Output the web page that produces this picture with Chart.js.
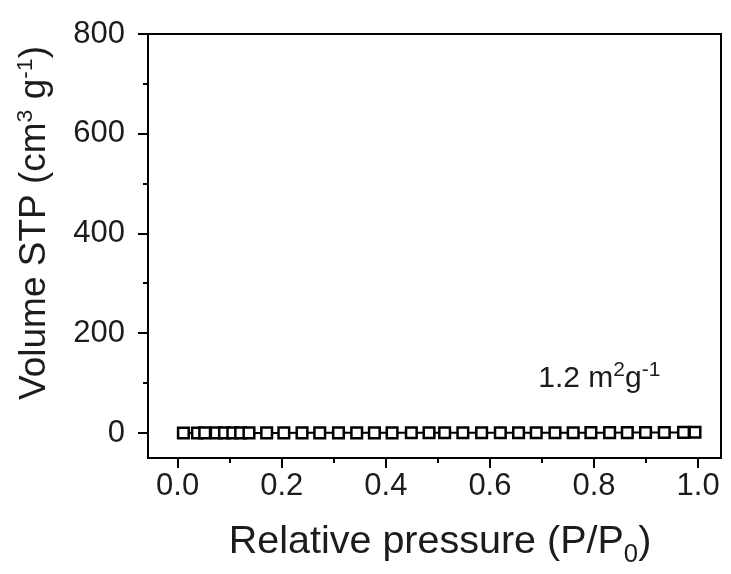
<!DOCTYPE html>
<html><head><meta charset="utf-8">
<script src="https://cdn.jsdelivr.net/npm/chart.js@4.4.1/dist/chart.umd.min.js"></script>
<style>html,body{margin:0;padding:0;background:#fff}#wrap{width:731px;height:574px}</style>
</head><body><div id="wrap"><canvas id="c" width="731" height="574"></canvas></div>
<script>
// ---- data ----
const pressure = [0.011, 0.038, 0.052, 0.074, 0.090, 0.106, 0.121, 0.137, 0.171, 0.204, 0.239, 0.273, 0.309, 0.344, 0.378, 0.412, 0.449, 0.483, 0.513, 0.548, 0.584, 0.620, 0.655, 0.689, 0.725, 0.760, 0.794, 0.830, 0.864, 0.899, 0.935, 0.972, 0.994];
const volume   = [0.21, 0.25, 0.27, 0.29, 0.30, 0.31, 0.32, 0.33, 0.35, 0.36, 0.38, 0.40, 0.41, 0.43, 0.45, 0.47, 0.49, 0.51, 0.53, 0.55, 0.58, 0.60, 0.63, 0.66, 0.70, 0.74, 0.79, 0.85, 0.92, 1.02, 1.15, 1.35, 1.60];
const xTickValues = [0, 0.2, 0.4, 0.6, 0.8, 1.0];
const xTickLabels = ['0.0', '0.2', '0.4', '0.6', '0.8', '1.0'];
const xMinorTicks = [0.1, 0.3, 0.5, 0.7, 0.9];
const yTickValues = [0, 200, 400, 600, 800];
const yTickLabels = ['0', '200', '400', '600', '800'];
const yMinorTicks = [100, 300, 500, 700];
const xTitleParts = [['Relative pressure (P/P', ''], ['0', 'sub'], [')', '']];
const yTitleParts = [['Volume STP (cm', ''], ['3', 'sup'], [' g', ''], ['-1', 'sup'], [')', '']];
const noteParts = [['1.2 m', ''], ['2', 'sup'], ['g', ''], ['-1', 'sup']];
const notePos = {x: 0.693, y: 92};

const FONT = '"Liberation Sans", Arial, Helvetica, sans-serif';
const TXT = '#1c1c1c';

function richWidth(ctx, parts, size, r) {
  let w = 0;
  for (const [t, k] of parts) {
    ctx.font = (k ? size * r : size) + 'px ' + FONT;
    w += ctx.measureText(t).width;
  }
  return w;
}
function drawRich(ctx, parts, x, y, size, r) {
  let cx = x;
  for (const [t, k] of parts) {
    const s = k ? size * r : size;
    ctx.font = s + 'px ' + FONT;
    let dy = 0;
    if (k === 'sup') dy = -size * 0.36;
    if (k === 'sub') dy = size * 0.22;
    ctx.fillText(t, cx, y + dy);
    cx += ctx.measureText(t).width;
  }
}

const decor = {
  id: 'decor',
  afterDraw(chart) {
    const ctx = chart.ctx, a = chart.chartArea;
    const xs = chart.scales.x, ys = chart.scales.y;
    ctx.save();
    ctx.strokeStyle = '#000';
    ctx.lineWidth = 2;
    ctx.strokeRect(a.left, a.top, a.right - a.left, a.bottom - a.top);
    ctx.beginPath();
    for (const v of xTickValues) { const p = Math.round(xs.getPixelForValue(v)); ctx.moveTo(p, a.bottom); ctx.lineTo(p, a.bottom + 10); }
    for (const v of xMinorTicks) { const p = Math.round(xs.getPixelForValue(v)); ctx.moveTo(p, a.bottom); ctx.lineTo(p, a.bottom + 5); }
    for (const v of yTickValues) { const p = Math.round(ys.getPixelForValue(v)); ctx.moveTo(a.left, p); ctx.lineTo(a.left - 10, p); }
    for (const v of yMinorTicks) { const p = Math.round(ys.getPixelForValue(v)); ctx.moveTo(a.left, p); ctx.lineTo(a.left - 5, p); }
    ctx.stroke();

    ctx.fillStyle = TXT;
    ctx.textBaseline = 'alphabetic';
    ctx.textAlign = 'left';
    // x title
    const xs1 = 39.5;
    const wx = richWidth(ctx, xTitleParts, xs1, 0.65);
    drawRich(ctx, xTitleParts, 440 - wx / 2, 553, xs1, 0.65);
    // y title
    const ys1 = 37;
    const wy = richWidth(ctx, yTitleParts, ys1, 0.62);
    ctx.save();
    ctx.translate(45, 223);
    ctx.rotate(-Math.PI / 2);
    drawRich(ctx, yTitleParts, -wy / 2, 0, ys1, 0.62);
    ctx.restore();
    // note
    drawRich(ctx, noteParts, xs.getPixelForValue(notePos.x), ys.getPixelForValue(notePos.y), 30, 0.7);
    ctx.restore();
  }
};

new Chart(document.getElementById('c'), {
  type: 'scatter',
  data: {
    datasets: [{
      data: pressure.map((p, i) => ({x: p, y: volume[i]})),
      showLine: true,
      borderColor: '#000',
      borderWidth: 2,
      pointStyle: 'rect',
      pointRadius: 7.5,
      pointBorderWidth: 2.5,
      pointBorderColor: '#000',
      pointBackgroundColor: '#fff'
    }]
  },
  options: {
    responsive: false,
    animation: false,
    layout: {padding: {top: 34, right: 7, left: 0, bottom: 0}},
    plugins: {legend: {display: false}, tooltip: {enabled: false}},
    scales: {
      x: {
        type: 'linear', min: -0.057, max: 1.044,
        afterFit(s) { s.height = 116; s.paddingLeft = 0; s.paddingRight = 0; },
        grid: {display: false, drawTicks: false},
        border: {display: false},
        ticks: {
          stepSize: 0.2, includeBounds: false, padding: 10,
          color: TXT, font: {size: 31, family: FONT},
          maxRotation: 0, autoSkip: false,
          callback(v) { const i = xTickValues.findIndex(t => Math.abs(t - v) < 1e-6); return i >= 0 ? xTickLabels[i] : ''; }
        }
      },
      y: {
        type: 'linear', min: -50, max: 800,
        afterFit(s) { s.width = 148; s.paddingTop = 0; s.paddingBottom = 0; },
        grid: {display: false, drawTicks: false},
        border: {display: false},
        ticks: {
          stepSize: 200, includeBounds: false, padding: 23,
          color: TXT, font: {size: 31, family: FONT},
          autoSkip: false,
          callback(v) { const i = yTickValues.indexOf(v); return i >= 0 ? yTickLabels[i] : ''; }
        }
      }
    }
  },
  plugins: [decor]
});
</script>
</body></html>
